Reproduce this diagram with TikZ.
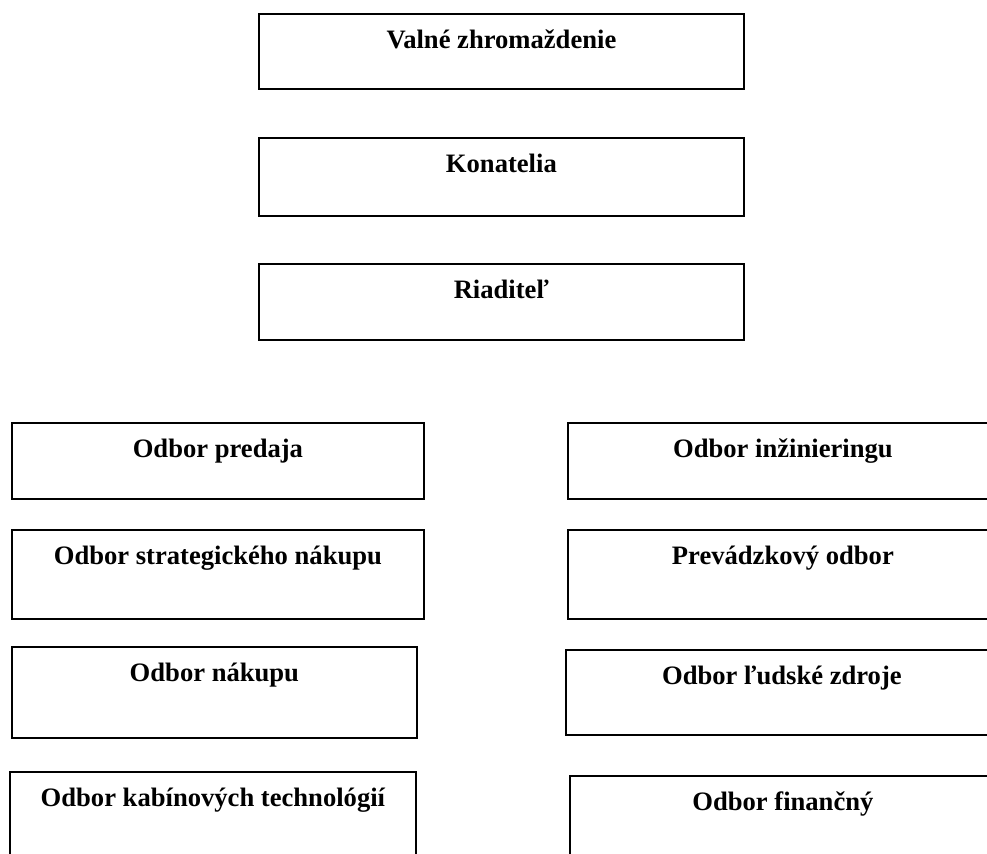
\documentclass[tikz,border=0pt]{standalone}
\usepackage{fontspec}
\setmainfont{Liberation Serif}
\usepackage{tikz}
\tikzset{
  unitbox/.style={draw,line width=0.9pt,anchor=north west,inner sep=0pt,font=\fontsize{13.3}{16}\bfseries\selectfont,text height=17.5pt},
  wide/.style={minimum width=242.5pt},
  leftcol/.style={minimum width=206pt},
  rightcol/.style={minimum width=215pt}
}
\begin{document}
\begin{tikzpicture}[x=0.5pt,y=-0.5pt]
  \clip (0,0) rectangle (987,853);
  \node[unitbox,wide,text depth=20pt] (vz) at (258,13) {Valné zhromaždenie};
  \node[unitbox,wide,text depth=21.5pt] (kon) at (258,137) {Konatelia};
  \node[unitbox,wide,text depth=20.5pt] (riad) at (258,263) {Riaditeľ};
  \node[unitbox,leftcol,text depth=20.5pt] (predaj) at (11,422) {Odbor predaja};
  \node[unitbox,leftcol,text depth=27pt] (strat) at (11,529) {Odbor strategického nákupu};
  \node[unitbox,minimum width=202.5pt,text depth=28pt] (nakup) at (11,646) {Odbor nákupu};
  \node[unitbox,minimum width=203pt,text depth=35pt] (kabin) at (9,771) {Odbor kabínových technológií};
  \node[unitbox,rightcol,text depth=20.5pt] (inzin) at (567,422) {Odbor inžinieringu};
  \node[unitbox,rightcol,text depth=27pt] (prevad) at (567,529) {Prevádzkový odbor};
  \node[unitbox,minimum width=216pt,text depth=25pt] (ludia) at (565,649) {Odbor ľudské zdroje};
  \node[unitbox,minimum width=213pt,text depth=35pt] (financ) at (569,775) {Odbor finančný};
\end{tikzpicture}
\end{document}
